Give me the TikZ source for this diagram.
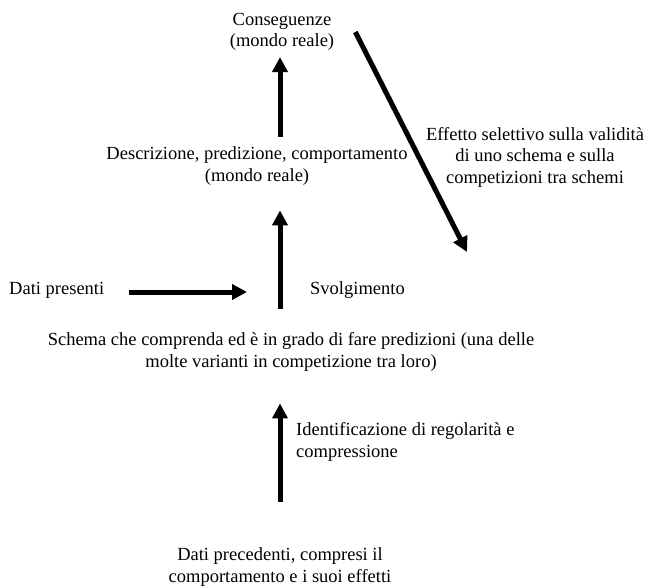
\documentclass[tikz,border=0pt]{standalone}
\usepackage{fontspec}
\setmainfont{Liberation Serif}
\usetikzlibrary{arrows.meta}
\begin{document}
\begin{tikzpicture}[x=1pt,y=-1pt,
    txt/.style={align=center,inner sep=0pt,font=\fontsize{18.5}{21.5}\selectfont},
    big/.style={line width=5pt,-{Triangle[length=15pt,width=15pt]}}]
  \useasboundingbox (0,0) rectangle (645,587);
  \draw
    (282,32) node[txt] (cons){Conseguenze\\(mondo reale)}
    (257,166) node[txt] (desc){Descrizione, predizione, comportamento\\(mondo reale)}
    (9,294) node[txt,anchor=base west] (pres){Dati presenti}
    (310,294) node[txt,anchor=base west] (svol){Svolgimento}
    (291,352) node[txt] (schema){Schema che comprenda ed è in grado di fare predizioni (una delle\\molte varianti in competizione tra loro)}
    (296,442) node[txt,align=left,anchor=west] (ident){Identificazione di regolarità e\\compressione}
    (535,157) node[txt] (eff){Effetto selettivo sulla validità\\di uno schema e sulla\\competizioni tra schemi}
    (280,567) node[txt] (prec){Dati precedenti, compresi il\\comportamento e i suoi effetti};
  \coordinate (axis) at (280,0);
  \coordinate (inflow) at (247,292);
  \coordinate (sel) at (467,252);
  \begin{scope}[big]
    \draw[shorten <=9.5pt,shorten >=6pt] (desc.north -| axis) to (cons.south -| axis);
    \draw[shorten <=24pt,shorten >=25pt] (schema.north -| axis) to (desc.south -| axis);
    \draw[shorten <=46pt,shorten >=32pt] (prec.north -| axis) to (schema.south -| axis);
    \draw[shorten <=25pt] (pres.east |- inflow) to (inflow);
    \draw ([xshift=21pt]cons.east) to (sel);
  \end{scope}
\end{tikzpicture}
\end{document}
